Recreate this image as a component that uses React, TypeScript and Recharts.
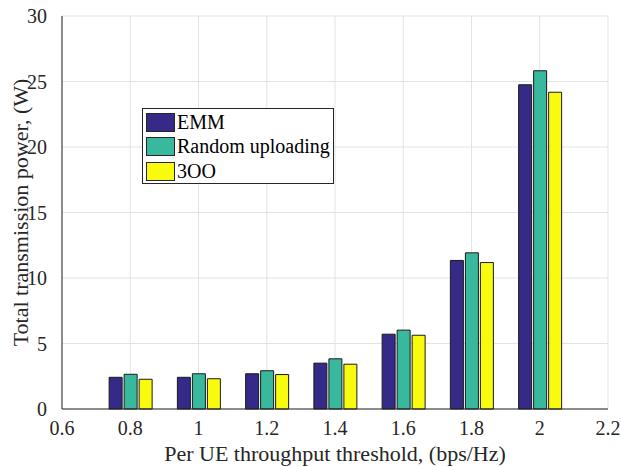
import { BarChart, Bar, XAxis, YAxis, CartesianGrid, Legend } from "recharts";

const thresholds = [0.8, 1.0, 1.2, 1.4, 1.6, 1.8, 2.0];
const emm = [2.42, 2.42, 2.69, 3.5, 5.71, 11.34, 24.75];
const randomUploading = [2.65, 2.69, 2.92, 3.83, 6.02, 11.92, 25.82];
const threeOO = [2.27, 2.31, 2.63, 3.42, 5.63, 11.18, 24.18];

const xTicks = [0.6, 0.8, 1.0, 1.2, 1.4, 1.6, 1.8, 2.0, 2.2];
const yTicks = [0, 5, 10, 15, 20, 25, 30];

const X_LABEL = "Per UE throughput threshold, (bps/Hz)";
const Y_LABEL = "Total transmission power, (W)";

const SERIES = [
  { key: "emm", name: "EMM", color: "#352a87" },
  { key: "random", name: "Random uploading", color: "#38b99e" },
  { key: "threeOO", name: "3OO", color: "#f9fb0e" },
];

const data = thresholds.map((t, i) => ({
  t,
  emm: emm[i],
  random: randomUploading[i],
  threeOO: threeOO[i],
}));

const FONT = "'Liberation Serif', 'Times New Roman', serif";
const AXIS = "#262626";

function BoxLegend() {
  return (
    <div
      style={{
        border: "1px solid #262626",
        background: "#fff",
        padding: "1px 0 0 3px",
        boxSizing: "border-box",
        fontFamily: FONT,
        fontSize: 20,
        color: "#000",
        width: 192,
        height: 76,
      }}
    >
      {SERIES.map((s) => (
        <div key={s.key} style={{ display: "flex", alignItems: "center", height: 24.5 }}>
          <span
            style={{
              display: "inline-block",
              width: 29,
              height: 19,
              background: s.color,
              border: "1px solid #262626",
              boxSizing: "border-box",
              marginRight: 2,
            }}
          />
          <span style={{ whiteSpace: "nowrap" }}>{s.name}</span>
        </div>
      ))}
    </div>
  );
}

function XTitle(props: any) {
  const vb = props.viewBox || {};
  return (
    <text
      x={vb.x + vb.width / 2}
      y={vb.y + vb.height + 18}
      textAnchor="middle"
      fill={AXIS}
      fontSize={22}
      fontFamily={FONT}
    >
      {X_LABEL}
    </text>
  );
}

export default function App() {
  return (
    <div style={{ position: "absolute", left: 0, top: 0, background: "#fff" }}>
      <BarChart
        width={621}
        height={467}
        data={data}
        margin={{ top: 16, right: 13, bottom: 24, left: 0 }}
        barGap={2}
        barSize={13}
        style={{ fontFamily: FONT }}
      >
        <CartesianGrid stroke="#e3e3e3" strokeWidth={1} />
        <XAxis
          dataKey="t"
          type="number"
          domain={[0.6, 2.2]}
          ticks={xTicks}
          tickFormatter={(v: number) => String(Math.round(v * 10) / 10)}
          height={34}
          tickLine={false}
          tickMargin={6}
          axisLine={{ stroke: AXIS }}
          tick={{ fill: AXIS, fontSize: 20, fontFamily: FONT }}
          interval={0}
          label={<XTitle />}
        />
        <XAxis
          xAxisId="top"
          dataKey="t"
          type="number"
          domain={[0.6, 2.2]}
          orientation="top"
          height={0}
          tick={false}
          tickLine={false}
          axisLine={{ stroke: AXIS }}
        />
        <YAxis
          type="number"
          domain={[0, 30]}
          ticks={yTicks}
          width={62}
          tickLine={false}
          tickMargin={9}
          axisLine={{ stroke: AXIS }}
          tick={{ fill: AXIS, fontSize: 20, fontFamily: FONT }}
          label={{
            value: Y_LABEL,
            angle: -90,
            position: "insideLeft",
            offset: 20,
            style: { textAnchor: "middle" },
            fill: AXIS,
            fontSize: 22,
            fontFamily: FONT,
          }}
        />
        <YAxis
          yAxisId="right"
          orientation="right"
          domain={[0, 30]}
          width={0}
          tick={false}
          tickLine={false}
          axisLine={{ stroke: "#8a8a8a" }}
        />
        <Legend
          layout="vertical"
          verticalAlign="middle"
          align="center"
          wrapperStyle={{ left: 142, top: 108, width: "auto", height: "auto" }}
          content={() => <BoxLegend />}
        />
        {SERIES.map((s) => (
          <Bar
            key={s.key}
            dataKey={s.key}
            name={s.name}
            fill={s.color}
            stroke="#1a1a1a"
            strokeWidth={1}
            isAnimationActive={false}
          />
        ))}
      </BarChart>
    </div>
  );
}
